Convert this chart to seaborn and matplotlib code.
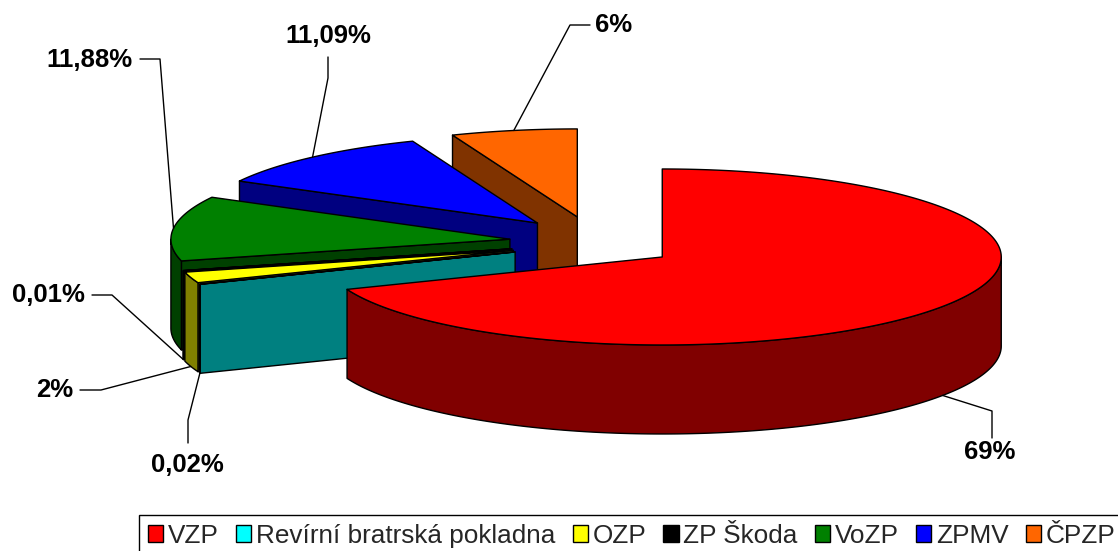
import numpy as np
import matplotlib
matplotlib.use("Agg")
import matplotlib.pyplot as plt
from matplotlib.patches import Polygon, Rectangle
import seaborn as sns

# data
names = ["VZP", "Revírní bratrská pokladna", "OZP", "ZP Škoda", "VoZP", "ZPMV", "ČPZP"]
shares = [69, 0.02, 2, 0.01, 11.88, 11.09, 6]
value_labels = ["69%", "0,02%", "2%", "0,01%", "11,88%", "11,09%", "6%"]
top_colors = ["#FF0000", "#00FFFF", "#FFFF00", "#000000", "#008000", "#0000FF", "#FF6600"]
side_colors = ["#800000", "#008080", "#808000", "#000000", "#004000", "#000080", "#803300"]

sns.set_theme(style="white")
plt.rcParams['font.family'] = ['Liberation Sans', 'DejaVu Sans']

# pie geometry in pixel space of the figure
cx, cy = 593, 242.4
rx, ry = 339, 88
depth = 89
explode = 0.247
explode_ry = 105

# label layout: text centre, elbow of leader, end of leader near text
label_pos = [(990, 452), (187, 465), (55, 390), (48, 295), (89, 60), (328, 36), (614, 25)]
elbows = [(992, 411), (188, 420), (101, 390), (112, 295), (160, 59), (328, 78), (570, 25)]
line_ends = [(992, 438), (188, 443), (80, 390), (92, 295), (140, 59), (328, 57), (590, 25)]

fig = plt.figure(figsize=(11.18, 5.51), dpi=100)
ax = fig.add_axes([0, 0, 1, 1])
ax.set_xlim(0, 1118)
ax.set_ylim(551, 0)
ax.axis('off')


def rim(x0, y0, t, z=0.0):
    t = np.radians(t)
    return x0 + rx * np.sin(t), y0 - ry * np.cos(t) + z


total = sum(shares)
bounds = np.cumsum([0] + shares) / total * 360

slices = []
for i in range(len(shares)):
    t0, t1 = bounds[i], bounds[i + 1]
    mid = np.radians((t0 + t1) / 2)
    x0 = cx + explode * rx * np.sin(mid)
    y0 = cy - explode * explode_ry * np.cos(mid)
    arc = np.linspace(t0, t1, max(2, int(t1 - t0) * 2 + 2))
    ax_, ay_ = rim(x0, y0, arc)
    near = max(y0, ay_.max())
    slices.append((near, i, t0, t1, x0, y0, arc))

style = dict(edgecolor='black', linewidth=1.0, joinstyle='round')

for near, i, t0, t1, x0, y0, arc in sorted(slices):
    side = side_colors[i]
    # radial faces facing the viewer
    for t, ok in ((t0, 180 < t0 < 360), (t1, 0 < t1 < 180)):
        if ok:
            px, py = rim(x0, y0, t)
            poly = [(x0, y0), (px, py), (px, py + depth), (x0, y0 + depth)]
            ax.add_patch(Polygon(poly, closed=True, facecolor=side, **style))
    # outer wall, front part only
    a, b = max(t0, 90), min(t1, 270)
    if b > a:
        w = np.linspace(a, b, max(2, int(b - a) * 2 + 2))
        wx, wy = rim(x0, y0, w)
        pts = list(zip(wx, wy)) + list(zip(wx[::-1], wy[::-1] + depth))
        ax.add_patch(Polygon(pts, closed=True, facecolor=side, **style))
    # top face
    tx, ty = rim(x0, y0, arc)
    pts = [(x0, y0)] + list(zip(tx, ty))
    ax.add_patch(Polygon(pts, closed=True, facecolor=top_colors[i], **style))

# data labels with leader lines
for near, i, t0, t1, x0, y0, arc in slices:
    mid = (t0 + t1) / 2
    z = depth if np.cos(np.radians(mid)) < 0 else 0
    axp, ayp = rim(x0, y0, mid, z)
    ex, ey = elbows[i]
    lx, ly = line_ends[i]
    ax.plot([axp, ex, lx], [ayp, ey, ly], color='black', linewidth=1.0)
    ax.text(label_pos[i][0], label_pos[i][1], value_labels[i], ha='center', va='center',
            fontsize=18.5, fontweight='bold', color='black')

handles = [Rectangle((0, 0), 1, 1, facecolor=c, edgecolor='black', linewidth=1.0) for c in top_colors]
leg = fig.legend(handles, names, loc='upper left', bbox_to_anchor=(139 / 1118, 1 - 515 / 551),
                 ncol=7, frameon=True, fancybox=False, edgecolor='black', framealpha=1,
                 fontsize=18.8, handlelength=0.58, handleheight=0.62, handletextpad=0.18,
                 columnspacing=0.66, borderpad=0.35, borderaxespad=0)
leg.get_frame().set_linewidth(1.0)

fig.savefig('out.png', dpi=100, facecolor='white')
